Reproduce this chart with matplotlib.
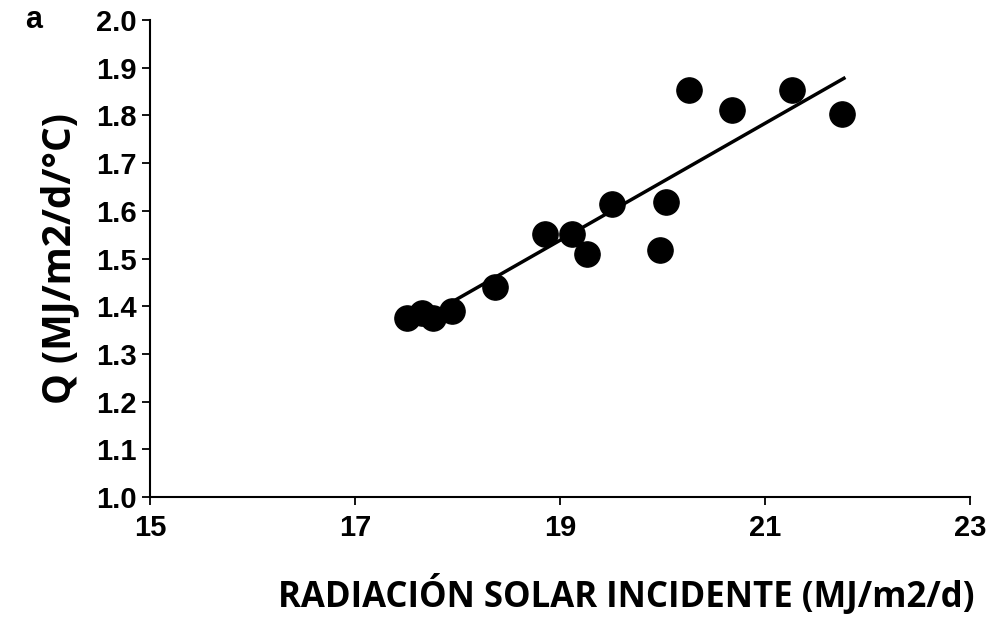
import matplotlib.pyplot as plt

radiacion = [17.51, 17.65, 17.76, 17.95, 18.37, 18.85, 19.12, 19.26, 19.51,
             19.98, 20.03, 20.26, 20.68, 21.26, 21.75]
q = [1.375, 1.386, 1.375, 1.39, 1.44, 1.551, 1.551, 1.509, 1.614,
     1.518, 1.618, 1.853, 1.811, 1.853, 1.803]
fit_x = [17.98, 21.77]
fit_y = [1.413, 1.878]

fig = plt.figure(figsize=(10, 6.29), dpi=100)
ax = fig.add_axes([0.150, 0.210, 0.820, 0.758])

ax.scatter(radiacion, q, s=330, color='black', zorder=3)
ax.plot(fit_x, fit_y, color='black', lw=2.5)

ax.set_xlim(15, 23)
ax.set_ylim(1.0, 2.0)
ax.set_xticks([15, 17, 19, 21, 23])
ax.set_yticks([1.0 + 0.1 * i for i in range(11)])
ax.set_yticklabels([f'{1.0 + 0.1 * i:.1f}' for i in range(11)])
for s in ['top', 'right']:
    ax.spines[s].set_visible(False)
for s in ['left', 'bottom']:
    ax.spines[s].set_linewidth(1.5)
ax.tick_params(width=1.3, length=6, labelsize=21)
ax.tick_params(axis='x', pad=6)
for lab in ax.get_xticklabels() + ax.get_yticklabels():
    lab.set_family('Liberation Sans')
    lab.set_fontweight('bold')

ax.set_ylabel('Q (MJ/m2/d/°C)', fontsize=28, fontweight='bold',
              family='Open Sans', labelpad=12)
fig.text(0.975, 0.035, 'RADIACIÓN SOLAR INCIDENTE (MJ/m2/d)', ha='right',
         fontsize=25, fontweight='bold', family='Open Sans')
fig.text(0.025, 0.955, 'a', fontsize=22, fontweight='bold',
         family='Liberation Sans')

fig.savefig('out.png', dpi=100)
